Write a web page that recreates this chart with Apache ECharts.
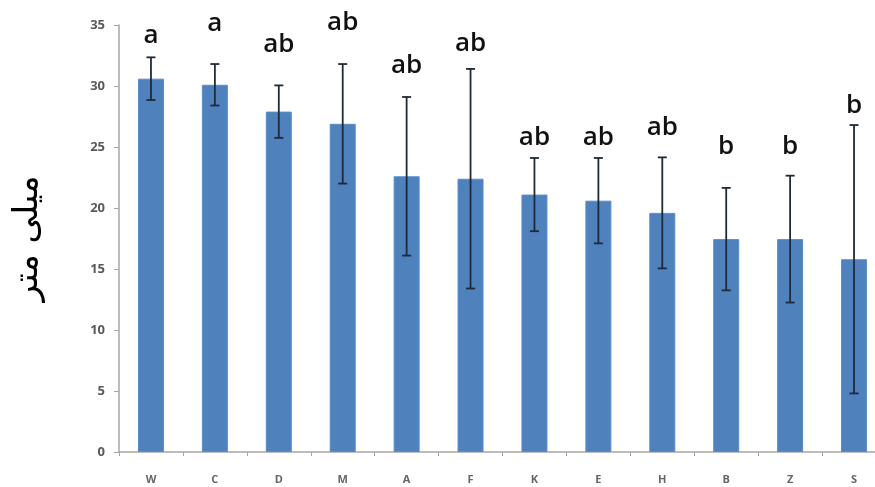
<!DOCTYPE html>
<html>
<head>
<meta charset="utf-8">
<script src="https://cdn.jsdelivr.net/npm/echarts@6/dist/echarts.min.js"></script>
<style>
  html, body { margin: 0; padding: 0; background: #ffffff; overflow: hidden; width: 875px; height: 487px; }
  /* the plot runs slightly past the right edge of the page */
  #chart { width: 886px; height: 487px; }
</style>
</head>
<body>
<div id="chart"></div>
<script>
// Treatments along the x axis
const categories = ['W', 'C', 'D', 'M', 'A', 'F', 'K', 'E', 'H', 'B', 'Z', 'S'];
// Mean values (millimetres)
const means = [30.6, 30.1, 27.9, 26.9, 22.6, 22.4, 21.1, 20.6, 19.6, 17.45, 17.45, 15.8];
// Half-width of each error bar
const errors = [1.75, 1.7, 2.15, 4.9, 6.5, 9.0, 3.0, 3.5, 4.55, 4.2, 5.2, 11.0];
// Significance letters and the height (axis units) at which each is written
const letters = ['a', 'a', 'ab', 'ab', 'ab', 'ab', 'ab', 'ab', 'ab', 'b', 'b', 'b'];
const letterHeights = [34.1, 35.1, 33.4, 35.2, 31.7, 33.5, 25.8, 25.8, 26.6, 25.0, 25.0, 28.4];
// Y axis scale
const yMin = 0, yMax = 35, yStep = 5;

const chart = echarts.init(document.getElementById('chart'), null, { renderer: 'canvas' });

const errorData = categories.map((c, i) => [i, means[i] - errors[i], means[i] + errors[i]]);
const letterData = categories.map((c, i) => [i, letterHeights[i], letters[i]]);

chart.setOption({
  animation: false,
  backgroundColor: '#ffffff',
  grid: { left: 119, top: 25, bottom: 35, right: 0, containLabel: false },
  xAxis: {
    type: 'category',
    data: categories,
    axisLine: { lineStyle: { color: '#a6a6a6', width: 1.5 } },
    axisTick: { show: true, alignWithLabel: false, length: 4, lineStyle: { color: '#a6a6a6' } },
    axisLabel: { color: '#666666', fontSize: 11, fontWeight: 'bold', margin: 22, fontFamily: 'Open Sans, sans-serif' }
  },
  yAxis: {
    type: 'value',
    min: yMin, max: yMax, interval: yStep,
    name: 'میلی متر',
    nameLocation: 'middle',
    nameRotate: 90,
    nameGap: 74,
    nameTextStyle: { fontSize: 34, color: '#000000', fontFamily: 'DejaVu Sans, sans-serif' },
    splitLine: { show: false },
    axisLine: { show: true, lineStyle: { color: '#a6a6a6', width: 1.5 } },
    axisTick: { show: true, length: 5, lineStyle: { color: '#a6a6a6' } },
    axisLabel: { color: '#595959', fontSize: 13, fontWeight: 'bold', margin: 14, fontFamily: 'Open Sans, sans-serif' }
  },
  series: [
    {
      type: 'bar',
      data: means,
      barWidth: 26,
      itemStyle: { color: '#4f81bd', borderColor: '#5a8cc8', borderWidth: 1 },
      z: 2
    },
    {
      type: 'custom',
      data: errorData,
      z: 3,
      renderItem: function (params, api) {
        const x = api.value(0);
        const lo = api.coord([x, api.value(1)]);
        const hi = api.coord([x, api.value(2)]);
        const half = 4.5;
        const style = { stroke: '#1e2a36', lineWidth: 1.8 };
        return {
          type: 'group',
          children: [
            { type: 'line', shape: { x1: hi[0], y1: hi[1], x2: lo[0], y2: lo[1] }, style: style },
            { type: 'line', shape: { x1: hi[0] - half, y1: hi[1], x2: hi[0] + half, y2: hi[1] }, style: style },
            { type: 'line', shape: { x1: lo[0] - half, y1: lo[1], x2: lo[0] + half, y2: lo[1] }, style: style }
          ]
        };
      }
    },
    {
      type: 'custom',
      data: letterData,
      z: 4,
      clip: false,
      renderItem: function (params, api) {
        const p = api.coord([api.value(0), api.value(1)]);
        return {
          type: 'text',
          x: p[0],
          y: p[1],
          style: {
            text: letters[params.dataIndex],
            fill: '#111111',
            font: '600 26px "Open Sans", sans-serif',
            textAlign: 'center',
            textVerticalAlign: 'middle'
          }
        };
      }
    }
  ]
});
</script>
</body>
</html>
